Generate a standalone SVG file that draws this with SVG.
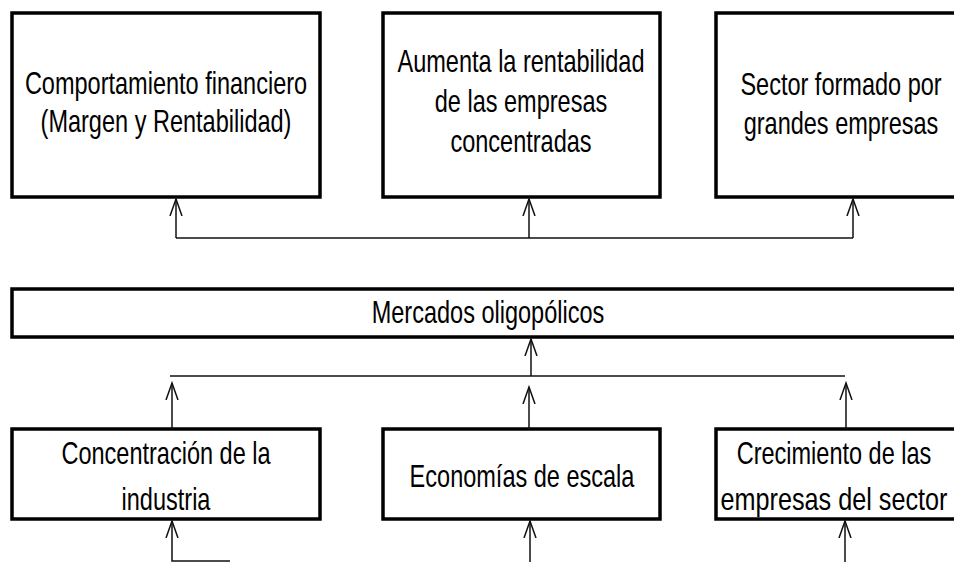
<svg xmlns="http://www.w3.org/2000/svg" width="954" height="562" viewBox="0 0 954 562">
<defs>
<style>
.box{fill:#fff;stroke:#000;stroke-width:3.5}
.t{font-family:"Liberation Sans",Arial,sans-serif;font-size:28px;fill:#000;text-anchor:middle}
.c{fill:none;stroke:#111;stroke-width:1.5}
</style>
<marker id="ah" markerWidth="20" markerHeight="20" refX="17" refY="6" orient="auto" markerUnits="userSpaceOnUse" viewBox="0 0 20 12">
<path d="M0,0 L17,6 L0,12" fill="none" stroke="#111" stroke-width="1.5"/>
</marker>
</defs>
<rect width="954" height="562" fill="#fff"/>
<g id="n1"><rect class="box" x="12" y="13" width="308" height="184"/>
<text class="t" transform="translate(166,0) scale(0.84,1.12)"><tspan x="0" y="84">Comportamiento financiero</tspan><tspan x="0" y="118">(Margen y Rentabilidad)</tspan></text></g>
<g id="n2"><rect class="box" x="383" y="13" width="277" height="184"/>
<text class="t" transform="translate(521,0) scale(0.84,1.12)"><tspan x="0" y="64">Aumenta la rentabilidad</tspan><tspan x="0" y="100">de las empresas</tspan><tspan x="0" y="136">concentradas</tspan></text></g>
<g id="n3"><rect class="box" x="716" y="13" width="240" height="184"/>
<text class="t" transform="translate(841,0) scale(0.84,1.12)"><tspan x="0" y="85">Sector formado por</tspan><tspan x="0" y="120">grandes empresas</tspan></text></g>
<g id="n4"><rect class="box" x="12" y="289" width="944" height="48"/>
<text class="t" transform="translate(488,0) scale(0.84,1.12)"><tspan x="0" y="288">Mercados oligopólicos</tspan></text></g>
<g id="n5"><rect class="box" x="12" y="429" width="308" height="90"/>
<text class="t" transform="translate(166,0) scale(0.84,1.12)"><tspan x="0" y="414">Concentración de la</tspan><tspan x="0" y="455">industria</tspan></text></g>
<g id="n6"><rect class="box" x="383" y="429" width="277" height="90"/>
<text class="t" transform="translate(522,0) scale(0.84,1.12)"><tspan x="0" y="435">Economías de escala</tspan></text></g>
<g id="n7"><rect class="box" x="716" y="429" width="240" height="90"/>
<text class="t" transform="translate(834,0) scale(0.84,1.12)"><tspan x="0" y="414">Crecimiento de las</tspan><tspan x="0" y="455" textLength="270" lengthAdjust="spacingAndGlyphs">empresas del sector</tspan></text></g>
<g id="connectors">
<path class="c" d="M176,238 H853"/>
<path class="c" d="M176,238 V199" marker-end="url(#ah)"/>
<path class="c" d="M529,238 V199" marker-end="url(#ah)"/>
<path class="c" d="M853,238 V199" marker-end="url(#ah)"/>
<path class="c" d="M170,376 H845"/>
<path class="c" d="M531,376 V339" marker-end="url(#ah)"/>
<path class="c" d="M172,429 V383" marker-end="url(#ah)"/>
<path class="c" d="M529,429 V387" marker-end="url(#ah)"/>
<path class="c" d="M846,429 V383" marker-end="url(#ah)"/>
<path class="c" d="M230,561 H172 V521" marker-end="url(#ah)"/>
<path class="c" d="M530,562 V521" marker-end="url(#ah)"/>
<path class="c" d="M845,562 V521" marker-end="url(#ah)"/>
</g>
</svg>
